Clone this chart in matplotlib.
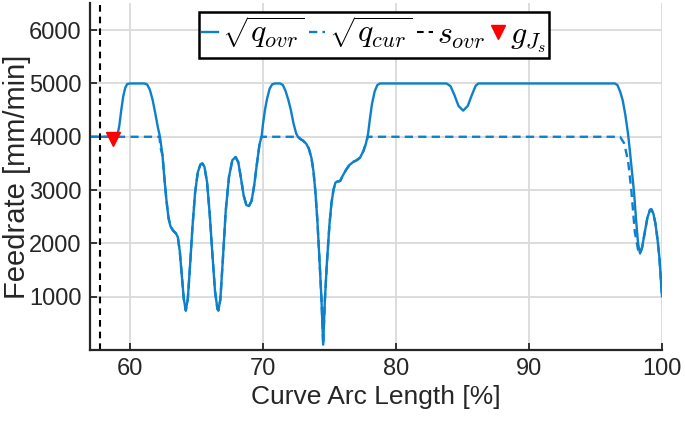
import matplotlib
matplotlib.use("Agg")
import matplotlib.pyplot as plt
from matplotlib.lines import Line2D

plt.rcParams['font.family'] = ['Liberation Sans', 'DejaVu Sans']
plt.rcParams['mathtext.fontset'] = 'cm'

# sqrt(q_ovr) : arc length [%] / feedrate [mm/min]
ovr_x = [57.0, 58.9, 59.05, 59.2, 59.35, 59.5, 59.65, 59.8, 60.0, 61.1, 61.3, 61.5, 61.7,
         61.9, 62.1, 62.26, 62.45, 62.6, 62.75, 62.9, 63.05, 63.25, 63.45, 63.6, 63.75,
         63.9, 64.05, 64.2, 64.35, 64.5, 64.7, 64.9, 65.1, 65.3, 65.45, 65.6, 65.8, 66.0,
         66.2, 66.4, 66.58, 66.65, 66.8, 67.0, 67.2, 67.45, 67.7, 67.95, 68.15, 68.35,
         68.55, 68.75, 68.95, 69.15, 69.35, 69.55, 69.75, 69.9, 70.0, 70.15, 70.3, 70.5,
         70.7, 70.9, 71.3, 71.5, 71.7, 71.9, 72.1, 72.3, 72.5, 72.65, 72.8, 73.0, 73.25,
         73.45, 73.65, 73.8, 73.95, 74.1, 74.25, 74.4, 74.53, 74.65, 74.8, 75.0, 75.15,
         75.3, 75.45, 75.6, 75.8, 76.0, 76.25, 76.5, 76.8, 77.05, 77.3, 77.55, 77.75, 77.9,
         78.05, 78.2, 78.4, 78.6, 78.8, 83.8, 84.1, 84.4, 84.7, 85.05, 85.4, 85.7, 86.0,
         86.2, 96.45, 96.65, 96.85, 97.05, 97.25, 97.45, 97.6, 97.75, 97.9, 98.05, 98.2,
         98.35, 98.5, 98.7, 98.9, 99.1, 99.2, 99.35, 99.5, 99.65, 99.8, 100.0]
ovr_y = [4000, 4000, 4020, 4200, 4500, 4760, 4920, 4990, 5000, 5000, 4980, 4880, 4700,
         4450, 4180, 4000, 3650, 3200, 2800, 2480, 2320, 2240, 2190, 2120, 1850,
         1400, 960, 740, 950, 1500, 2300, 2950, 3330, 3480, 3500, 3440, 3150, 2550,
         1800, 1100, 770, 740, 950, 1750, 2600, 3250, 3560, 3620, 3520, 3220,
         2900, 2720, 2700, 2800, 3100, 3500, 3870, 4000, 4230, 4500, 4700, 4900,
         4985, 5000, 5000, 4970, 4860, 4700, 4500, 4250, 4060, 3990, 3960, 3930, 3870,
         3780, 3600, 3350, 2950, 2400, 1700, 950, 100, 900, 1600, 2350, 2750,
         3000, 3140, 3160, 3170, 3270, 3380, 3470, 3530, 3560, 3610, 3730, 3880, 4050,
         4350, 4620, 4850, 4970, 5000, 5000, 4950, 4780, 4580, 4490, 4580, 4780, 4960,
         5000, 5000, 4970, 4850, 4680, 4400, 4050, 3700, 3330, 2950, 2450, 2000,
         1810, 1920, 2200, 2480, 2630, 2640, 2560, 2380, 2100, 1750, 1010]

# sqrt(q_cur)
cur_x = [57.0, 62.22, 62.3, 62.45, 62.6, 62.75, 62.9, 63.05, 63.25, 63.45, 63.6, 63.75,
         63.9, 64.05, 64.2, 64.35, 64.5, 64.7, 64.9, 65.1, 65.3, 65.45, 65.6, 65.8, 66.0,
         66.2, 66.4, 66.58, 66.65, 66.8, 67.0, 67.2, 67.45, 67.7, 67.95, 68.15, 68.35,
         68.55, 68.75, 68.95, 69.15, 69.35, 69.55, 69.75, 69.88, 72.7, 72.8, 73.0, 73.25,
         73.45, 73.65, 73.8, 73.95, 74.1, 74.25, 74.4, 74.53, 74.65, 74.8, 75.0, 75.15,
         75.3, 75.45, 75.6, 75.8, 76.0, 76.25, 76.5, 76.8, 77.05, 77.3, 77.55, 77.75, 77.88,
         96.85, 97.15, 97.45, 97.7, 97.95, 98.2, 98.35, 98.5, 98.7, 98.9, 99.1, 99.2,
         99.35, 99.5, 99.65, 99.8, 100.0]
cur_y = [4000, 4000, 3800, 3650, 3200, 2800, 2480, 2320, 2240, 2190, 2120, 1850,
         1400, 960, 740, 950, 1500, 2300, 2950, 3330, 3480, 3500, 3440, 3150, 2550,
         1800, 1100, 770, 740, 950, 1750, 2600, 3250, 3560, 3620, 3520, 3220,
         2900, 2720, 2700, 2800, 3100, 3500, 3870, 4000, 4000, 3960, 3930, 3870,
         3780, 3600, 3350, 2950, 2400, 1700, 950, 100, 900, 1600, 2350, 2750,
         3000, 3140, 3160, 3170, 3270, 3380, 3470, 3530, 3560, 3610, 3730, 3880, 4000,
         4000, 3880, 3550, 2980, 2230, 1880, 1810, 1920, 2200, 2480, 2630, 2640,
         2560, 2380, 2100, 1750, 1010]

s_ovr = 57.75          # arc length of s_ovr [%]
g_js = (58.75, 3960)   # g_{J_s} point

x_ticks = [60, 70, 80, 90, 100]
y_ticks = [1000, 2000, 3000, 4000, 5000, 6000]

blue = '#0d80cc'
dark = '#262626'

fig = plt.figure(figsize=(6.85, 4.23), dpi=100)
ax = fig.add_axes([90/685, 73/423, 572/685, 346.5/423])

ax.plot(ovr_x, ovr_y, '-', color=blue, lw=1.7, solid_joinstyle='round')
ax.plot(cur_x, cur_y, '--', color=blue, lw=1.7, dashes=(3.5, 2.2))
ax.axvline(s_ovr, color='black', lw=1.5, ls='--', dashes=(3.2, 2.4))
ax.plot([g_js[0]], [g_js[1]], 'v', color='red', ms=10, mec='red')

ax.set_xlim(57, 100)
ax.set_ylim(0, 6500)
ax.set_xticks(x_ticks)
ax.set_yticks(y_ticks)
ax.grid(True, color='#dadada', lw=1.3)
ax.set_axisbelow(True)
for s in ['top', 'right']:
    ax.spines[s].set_visible(False)
for s in ['left', 'bottom']:
    ax.spines[s].set_color(dark)
    ax.spines[s].set_linewidth(1.6)
ax.tick_params(direction='in', length=5, width=1.3, colors=dark, labelsize=17, pad=6)
ax.set_xlabel('Curve Arc Length [%]', fontsize=19, color=dark, labelpad=3)
ax.set_ylabel('Feedrate [mm/min]', fontsize=21, color=dark, va='center')
ax.yaxis.set_label_coords(-(90 - 17) / 572, 0.5)

handles = [
    Line2D([], [], color=blue, lw=1.7, ls='-'),
    Line2D([], [], color=blue, lw=1.7, ls='--', dashes=(3.5, 2.2)),
    Line2D([], [], color='black', lw=1.5, ls='--', dashes=(3.2, 2.4)),
    Line2D([], [], color='red', marker='v', ls='none', ms=10, mec='red'),
]
labels = [r'$\sqrt{q_{ovr}}$', r'$\sqrt{q_{cur}}$', r'$s_{ovr}$', r'$g_{J_s}$']
leg = ax.legend(handles, labels, ncol=4, loc='upper center', bbox_to_anchor=(0.497, 0.975),
                fontsize=23, handlelength=0.5, handletextpad=0.12, columnspacing=0.15,
                borderpad=0.1, frameon=True, fancybox=False, framealpha=1,
                edgecolor='black', borderaxespad=0)
leg.get_frame().set_linewidth(1.8)

fig.savefig('out.png', dpi=100)
